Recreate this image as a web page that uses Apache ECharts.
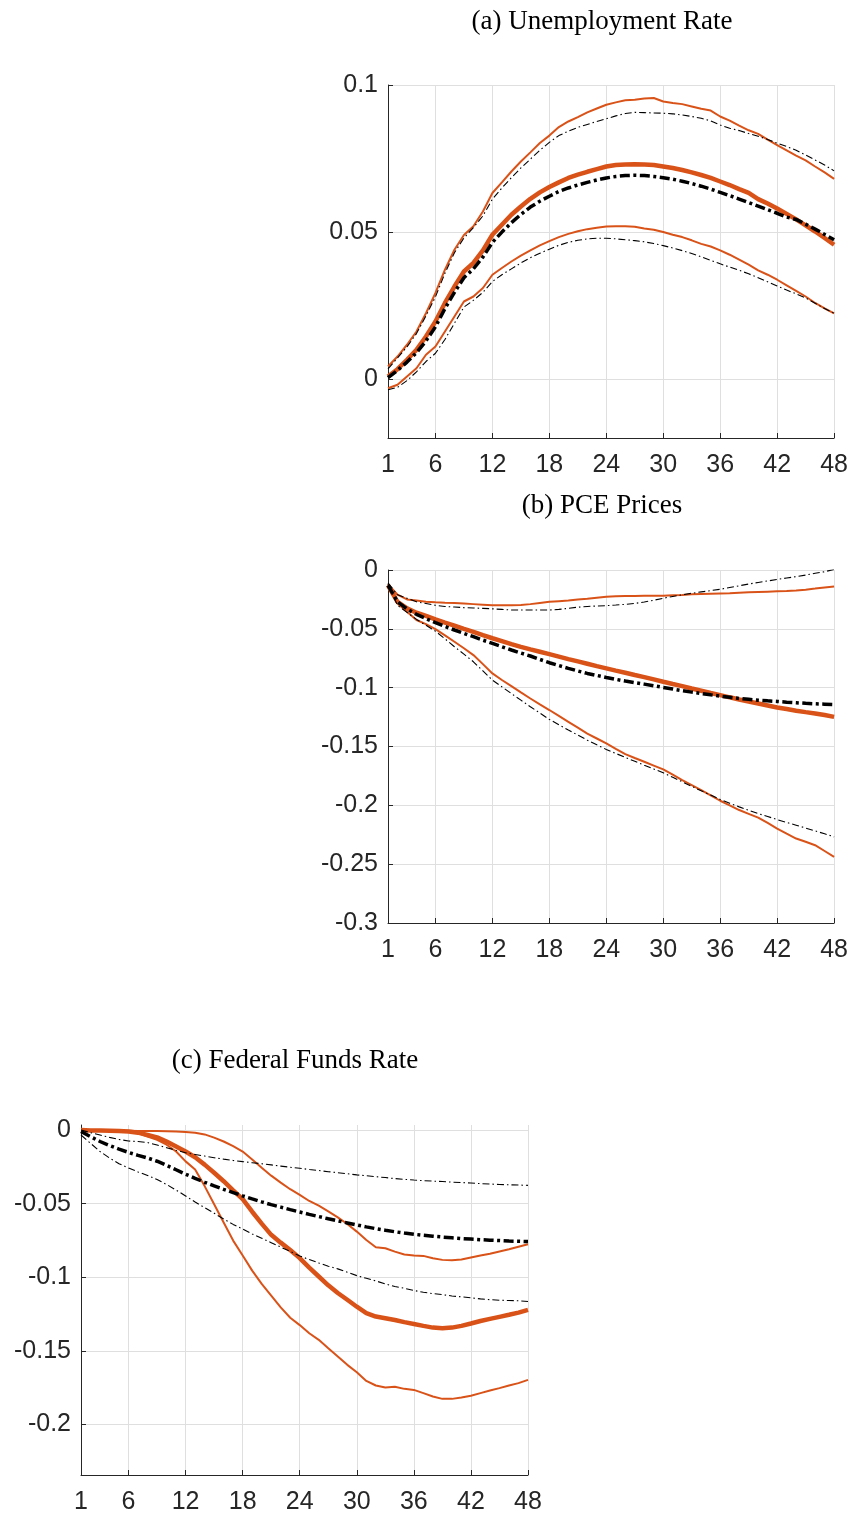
<!DOCTYPE html>
<html>
<head>
<meta charset="utf-8">
<script src="https://cdn.jsdelivr.net/npm/echarts@6/dist/echarts.min.js"></script>
<style>
html,body{margin:0;padding:0;background:#fff;}
#chart{width:851px;height:1515px;}
</style>
</head>
<body>
<div id="chart"></div>
<script>
// ---- data ----
const months = [1,2,3,4,5,6,7,8,9,10,11,12,13,14,15,16,17,18,19,20,21,22,23,24,25,26,27,28,29,30,31,32,33,34,35,36,37,38,39,40,41,42,43,44,45,46,47,48];
const xTickLabels = [1,6,12,18,24,30,36,42,48];
const yTicksUnemp = [0,0.05,0.1];
const yTicksPCE = [-0.3,-0.25,-0.2,-0.15,-0.1,-0.05,0];
const yTicksFFR = [-0.2,-0.15,-0.1,-0.05,0];
const titles = ['(a) Unemployment Rate','(b) PCE Prices','(c) Federal Funds Rate'];

// (a) Unemployment Rate
const unempOrangeMean = [0.0009,0.0034,0.0066,0.010,0.0145,0.0196,0.0259,0.0315,0.0366,0.0395,0.0438,0.0491,0.0525,0.0559,0.0587,0.0613,0.0635,0.0653,0.0669,0.0684,0.0695,0.0705,0.0714,0.0723,0.0728,0.0730,0.0731,0.0730,0.0728,0.0723,0.0718,0.0711,0.0703,0.0694,0.0684,0.0672,0.0660,0.0646,0.0633,0.0612,0.0597,0.0580,0.0562,0.0543,0.0523,0.0502,0.0480,0.0457];
const unempOrangeUpper = [0.0043,0.0077,0.0117,0.0162,0.0224,0.0293,0.0372,0.0440,0.0490,0.0520,0.0570,0.0633,0.0669,0.0706,0.0740,0.0771,0.0803,0.0828,0.0857,0.0876,0.0891,0.0907,0.0920,0.0933,0.0941,0.0948,0.0950,0.0954,0.0956,0.0944,0.0939,0.0935,0.0927,0.0919,0.0913,0.0893,0.0879,0.0862,0.0846,0.0834,0.0814,0.0796,0.0778,0.0760,0.0744,0.0723,0.0703,0.0681];
const unempOrangeLower = [-0.0031,-0.0019,0.0009,0.0037,0.0083,0.0111,0.0162,0.0213,0.0264,0.0281,0.0310,0.0355,0.0378,0.0400,0.0420,0.0438,0.0455,0.0469,0.0483,0.0494,0.0503,0.0510,0.0515,0.0519,0.0520,0.0520,0.0518,0.0512,0.0508,0.0500,0.0491,0.0483,0.0472,0.0460,0.0451,0.0438,0.0423,0.0406,0.0389,0.0370,0.0355,0.0338,0.0319,0.0300,0.0281,0.0259,0.0241,0.0224];
const unempBlackMean = [0.0005,0.0030,0.0058,0.0090,0.0130,0.0178,0.0240,0.0295,0.0345,0.0375,0.0415,0.0465,0.0500,0.0532,0.0560,0.0585,0.0605,0.0622,0.0638,0.0650,0.0660,0.0669,0.0677,0.0684,0.0689,0.0692,0.0693,0.0692,0.0689,0.0685,0.0680,0.0673,0.0665,0.0656,0.0646,0.0635,0.0624,0.0612,0.0600,0.0588,0.0576,0.0564,0.0551,0.0543,0.0527,0.0510,0.0492,0.0474];
const unempBlackUpper = [0.0035,0.0072,0.0110,0.0155,0.0215,0.0280,0.0360,0.0430,0.0480,0.0515,0.0555,0.0612,0.0650,0.0685,0.0718,0.0748,0.0778,0.0805,0.0828,0.0843,0.0856,0.0866,0.0876,0.0885,0.0895,0.0903,0.0907,0.0906,0.0905,0.0904,0.0902,0.0898,0.0893,0.0887,0.0878,0.0864,0.0853,0.0845,0.0835,0.0826,0.0815,0.0802,0.0791,0.0778,0.0762,0.0745,0.0728,0.0708];
const unempBlackLower = [-0.0036,-0.0028,-0.0005,0.0025,0.0060,0.0088,0.0135,0.0190,0.0245,0.0268,0.0295,0.0332,0.0355,0.0375,0.0395,0.0413,0.0428,0.0442,0.0455,0.0465,0.0472,0.0477,0.0479,0.0479,0.0477,0.0474,0.0471,0.0467,0.0461,0.0454,0.0446,0.0437,0.0427,0.0416,0.0404,0.0392,0.0381,0.0370,0.0358,0.0345,0.0331,0.0317,0.0303,0.0290,0.0276,0.0258,0.0240,0.0224];

// (b) PCE Prices
const pceOrangeMean = [-0.013,-0.027,-0.0326,-0.0363,-0.039,-0.042,-0.0447,-0.0473,-0.050,-0.0525,-0.0553,-0.058,-0.0605,-0.063,-0.0653,-0.0675,-0.0695,-0.0715,-0.0736,-0.0757,-0.0777,-0.0797,-0.0817,-0.0836,-0.0855,-0.0873,-0.0892,-0.091,-0.093,-0.095,-0.0969,-0.0987,-0.1007,-0.1026,-0.1045,-0.1063,-0.1082,-0.110,-0.1117,-0.1134,-0.1151,-0.1168,-0.1182,-0.1196,-0.1208,-0.1219,-0.1233,-0.1248];
const pceOrangeUpper = [-0.012,-0.021,-0.025,-0.026,-0.027,-0.0275,-0.0278,-0.028,-0.0285,-0.029,-0.0295,-0.030,-0.030,-0.030,-0.0297,-0.029,-0.028,-0.027,-0.0265,-0.026,-0.025,-0.0245,-0.0235,-0.0228,-0.0224,-0.0222,-0.022,-0.0219,-0.0218,-0.0218,-0.0215,-0.0212,-0.0207,-0.0204,-0.0202,-0.020,-0.0198,-0.0193,-0.019,-0.0187,-0.0184,-0.0181,-0.0178,-0.0174,-0.0167,-0.0158,-0.0148,-0.014];
const pceOrangeLower = [-0.013,-0.0284,-0.0354,-0.0425,-0.046,-0.0502,-0.0555,-0.061,-0.0665,-0.0723,-0.080,-0.0879,-0.0935,-0.0987,-0.104,-0.1092,-0.1142,-0.119,-0.124,-0.129,-0.134,-0.139,-0.1432,-0.1474,-0.152,-0.1565,-0.1598,-0.163,-0.1662,-0.1695,-0.174,-0.1786,-0.1828,-0.187,-0.1915,-0.1961,-0.200,-0.204,-0.2072,-0.2104,-0.215,-0.2197,-0.224,-0.2282,-0.231,-0.2339,-0.2388,-0.2438];
const pceBlackMean = [-0.013,-0.027,-0.033,-0.0377,-0.0413,-0.0448,-0.048,-0.051,-0.0539,-0.0567,-0.0596,-0.0624,-0.0652,-0.068,-0.0706,-0.0731,-0.076,-0.0788,-0.0812,-0.0836,-0.0858,-0.0879,-0.0896,-0.0913,-0.0929,-0.0944,-0.0957,-0.097,-0.0984,-0.0998,-0.1012,-0.1026,-0.1038,-0.1049,-0.1061,-0.1072,-0.1082,-0.1092,-0.1099,-0.1106,-0.1112,-0.1117,-0.1123,-0.1128,-0.1133,-0.1137,-0.114,-0.1143];
const pceBlackUpper = [-0.011,-0.021,-0.024,-0.027,-0.0285,-0.030,-0.031,-0.0315,-0.032,-0.0323,-0.0326,-0.033,-0.0335,-0.034,-0.034,-0.034,-0.034,-0.034,-0.0335,-0.0326,-0.0316,-0.031,-0.0306,-0.0303,-0.0298,-0.0292,-0.0284,-0.0272,-0.0257,-0.024,-0.0225,-0.021,-0.0198,-0.0186,-0.0175,-0.0164,-0.0149,-0.0134,-0.0119,-0.0106,-0.0093,-0.008,-0.0068,-0.0056,-0.0043,-0.0028,-0.0015,0.0005];
const pceBlackLower = [-0.012,-0.030,-0.036,-0.042,-0.047,-0.052,-0.0585,-0.0652,-0.0715,-0.078,-0.0858,-0.0936,-0.0993,-0.105,-0.1106,-0.1162,-0.1216,-0.127,-0.1315,-0.136,-0.1403,-0.1446,-0.1486,-0.1525,-0.1559,-0.1593,-0.1626,-0.1659,-0.1691,-0.1724,-0.1762,-0.180,-0.1838,-0.1877,-0.1913,-0.195,-0.1982,-0.2013,-0.2042,-0.207,-0.2095,-0.2121,-0.2145,-0.2169,-0.2193,-0.2217,-0.2242,-0.2268];

// (c) Federal Funds Rate
const ffrOrangeMean = [0,-0.0003,-0.0004,-0.0005,-0.0007,-0.001,-0.0018,-0.0034,-0.005,-0.0078,-0.0112,-0.0146,-0.0185,-0.0235,-0.029,-0.0348,-0.041,-0.047,-0.0555,-0.0636,-0.0712,-0.0765,-0.0815,-0.087,-0.0935,-0.0995,-0.1055,-0.1107,-0.1153,-0.120,-0.1243,-0.1267,-0.1278,-0.129,-0.1305,-0.1317,-0.133,-0.1342,-0.1346,-0.1342,-0.133,-0.1314,-0.1297,-0.1283,-0.1269,-0.1255,-0.124,-0.1222];
const ffrOrangeUpper = [0,-0.0002,-0.0003,-0.0004,-0.0005,-0.0005,-0.0006,-0.0006,-0.0007,-0.0008,-0.001,-0.0013,-0.0018,-0.003,-0.0052,-0.0078,-0.011,-0.0146,-0.020,-0.0256,-0.031,-0.0357,-0.0402,-0.0441,-0.0482,-0.0514,-0.0552,-0.0593,-0.0638,-0.069,-0.0747,-0.0796,-0.0803,-0.0826,-0.0845,-0.0853,-0.0855,-0.0871,-0.0882,-0.0885,-0.088,-0.0866,-0.0852,-0.084,-0.0825,-0.081,-0.0793,-0.0776];
const ffrOrangeLower = [0,-0.0002,-0.0004,-0.0005,-0.0007,-0.001,-0.002,-0.0045,-0.0067,-0.010,-0.0146,-0.0213,-0.0269,-0.0381,-0.0504,-0.0628,-0.0751,-0.0852,-0.0955,-0.1045,-0.1125,-0.1205,-0.1275,-0.1325,-0.138,-0.1425,-0.1482,-0.1538,-0.1595,-0.1645,-0.1704,-0.1735,-0.1749,-0.1744,-0.1758,-0.1765,-0.1787,-0.181,-0.1826,-0.1826,-0.1817,-0.1805,-0.1787,-0.1769,-0.1753,-0.1735,-0.1719,-0.1697];
const ffrBlackMean = [-0.001,-0.0045,-0.0078,-0.0105,-0.013,-0.0152,-0.0172,-0.019,-0.0212,-0.024,-0.027,-0.030,-0.0328,-0.0355,-0.038,-0.0403,-0.0425,-0.0447,-0.0468,-0.0488,-0.0507,-0.0524,-0.0541,-0.0557,-0.0573,-0.0588,-0.0603,-0.0617,-0.0631,-0.0645,-0.0658,-0.067,-0.0681,-0.0691,-0.070,-0.0708,-0.0715,-0.0721,-0.0727,-0.0732,-0.0737,-0.0741,-0.0745,-0.0748,-0.0751,-0.0754,-0.0756,-0.0758];
const ffrBlackUpper = [0,-0.0018,-0.0034,-0.005,-0.0064,-0.0075,-0.0078,-0.0085,-0.0102,-0.012,-0.0138,-0.0155,-0.0166,-0.0177,-0.0188,-0.0198,-0.0207,-0.0215,-0.0222,-0.0229,-0.0237,-0.0245,-0.0253,-0.026,-0.0268,-0.0275,-0.0283,-0.029,-0.0297,-0.0305,-0.031,-0.0317,-0.0323,-0.033,-0.0335,-0.034,-0.0344,-0.0347,-0.035,-0.0354,-0.0357,-0.036,-0.0364,-0.0367,-0.037,-0.0372,-0.0374,-0.0376];
const ffrBlackLower = [-0.0034,-0.009,-0.0146,-0.019,-0.0229,-0.0258,-0.0285,-0.0309,-0.0336,-0.037,-0.0408,-0.0448,-0.0489,-0.0527,-0.0565,-0.0605,-0.0641,-0.0673,-0.0706,-0.0735,-0.0765,-0.0795,-0.0825,-0.0855,-0.088,-0.0903,-0.0925,-0.0943,-0.0966,-0.0989,-0.1007,-0.1025,-0.1045,-0.1063,-0.1075,-0.109,-0.1102,-0.1111,-0.1118,-0.1127,-0.1133,-0.114,-0.1147,-0.1152,-0.1156,-0.1158,-0.116,-0.1165];

// ---- styling / layout ----
const ORANGE = '#D95319';
const AXIS = '#262626';
const GRIDC = '#dfdfdf';
const TICKFONT = '"Liberation Sans", Arial, Helvetica, sans-serif';
const TITLEFONT = '"Liberation Serif", "Times New Roman", serif';

const grids = [
  {left: 388, top: 85, width: 447, height: 353},
  {left: 388, top: 570, width: 447, height: 353},
  {left: 81, top: 1125, width: 447, height: 353}
];
const yRanges = [[-0.02, 0.1], [-0.3, 0], [-0.2343, 0.0034]];
const yTickSets = [yTicksUnemp, yTicksPCE, yTicksFFR];
const titlePos = [[597, 3], [597, 487], [290, 1042]];

function pairs(arr) { return months.map((m, i) => [m, arr[i]]); }

const panels = [
  [unempOrangeMean, unempOrangeUpper, unempOrangeLower, unempBlackMean, unempBlackUpper, unempBlackLower],
  [pceOrangeMean, pceOrangeUpper, pceOrangeLower, pceBlackMean, pceBlackUpper, pceBlackLower],
  [ffrOrangeMean, ffrOrangeUpper, ffrOrangeLower, ffrBlackMean, ffrBlackUpper, ffrBlackLower]
];

const xAxes = [], yAxes = [], series = [], titleOpts = [];
grids.forEach((g, gi) => {
  xAxes.push({
    type: 'value', gridIndex: gi, min: 1, max: 48,
    axisLine: {show: true, onZero: false, lineStyle: {color: AXIS, width: 1}},
    axisTick: {show: true, inside: true, length: 5, lineStyle: {color: AXIS}, customValues: xTickLabels},
    axisLabel: {show: true, margin: 15, color: AXIS, fontSize: 25, fontFamily: TICKFONT, customValues: xTickLabels},
    splitLine: {show: true, lineStyle: {color: GRIDC, width: 1}}
  });
  yAxes.push({
    type: 'value', gridIndex: gi, min: yRanges[gi][0], max: yRanges[gi][1],
    axisLine: {show: true, onZero: false, lineStyle: {color: AXIS, width: 1}},
    axisTick: {show: true, inside: true, length: 5, lineStyle: {color: AXIS}, customValues: yTickSets[gi]},
    axisLabel: {show: true, margin: 10, color: AXIS, fontSize: 25, fontFamily: TICKFONT, padding: [5, 0, 0, 0], customValues: yTickSets[gi]},
    splitLine: {show: true, lineStyle: {color: GRIDC, width: 1}}
  });
  titleOpts.push({
    text: titles[gi], left: titlePos[gi][0], top: titlePos[gi][1], textAlign: 'center',
    textStyle: {fontFamily: TITLEFONT, fontSize: 27, fontWeight: 'normal', color: '#000'}
  });
  const [om, ou, ol, bm, bu, bl] = panels[gi];
  const base = {type: 'line', xAxisIndex: gi, yAxisIndex: gi, showSymbol: false, symbol: 'none', animation: false, silent: true};
  series.push(Object.assign({}, base, {name: 'om' + gi, data: pairs(om), lineStyle: {color: ORANGE, width: 4.5}, z: 3}));
  series.push(Object.assign({}, base, {name: 'ou' + gi, data: pairs(ou), lineStyle: {color: ORANGE, width: 2}, z: 3}));
  series.push(Object.assign({}, base, {name: 'ol' + gi, data: pairs(ol), lineStyle: {color: ORANGE, width: 2}, z: 3}));
  series.push(Object.assign({}, base, {name: 'bm' + gi, data: pairs(bm), lineStyle: {color: '#000', width: 3.5, type: [10, 3.5, 3, 3.5], cap: 'butt'}, z: 4}));
  series.push(Object.assign({}, base, {name: 'bu' + gi, data: pairs(bu), lineStyle: {color: '#000', width: 1.1, type: [7, 3, 1.5, 3], cap: 'butt'}, z: 4}));
  series.push(Object.assign({}, base, {name: 'bl' + gi, data: pairs(bl), lineStyle: {color: '#000', width: 1.1, type: [7, 3, 1.5, 3], cap: 'butt'}, z: 4}));
});

const chart = echarts.init(document.getElementById('chart'), null, {renderer: 'canvas'});
chart.setOption({
  animation: false,
  backgroundColor: '#fff',
  title: titleOpts,
  grid: grids.map(g => Object.assign({containLabel: false}, g)),
  xAxis: xAxes,
  yAxis: yAxes,
  series: series
});
</script>
</body>
</html>
